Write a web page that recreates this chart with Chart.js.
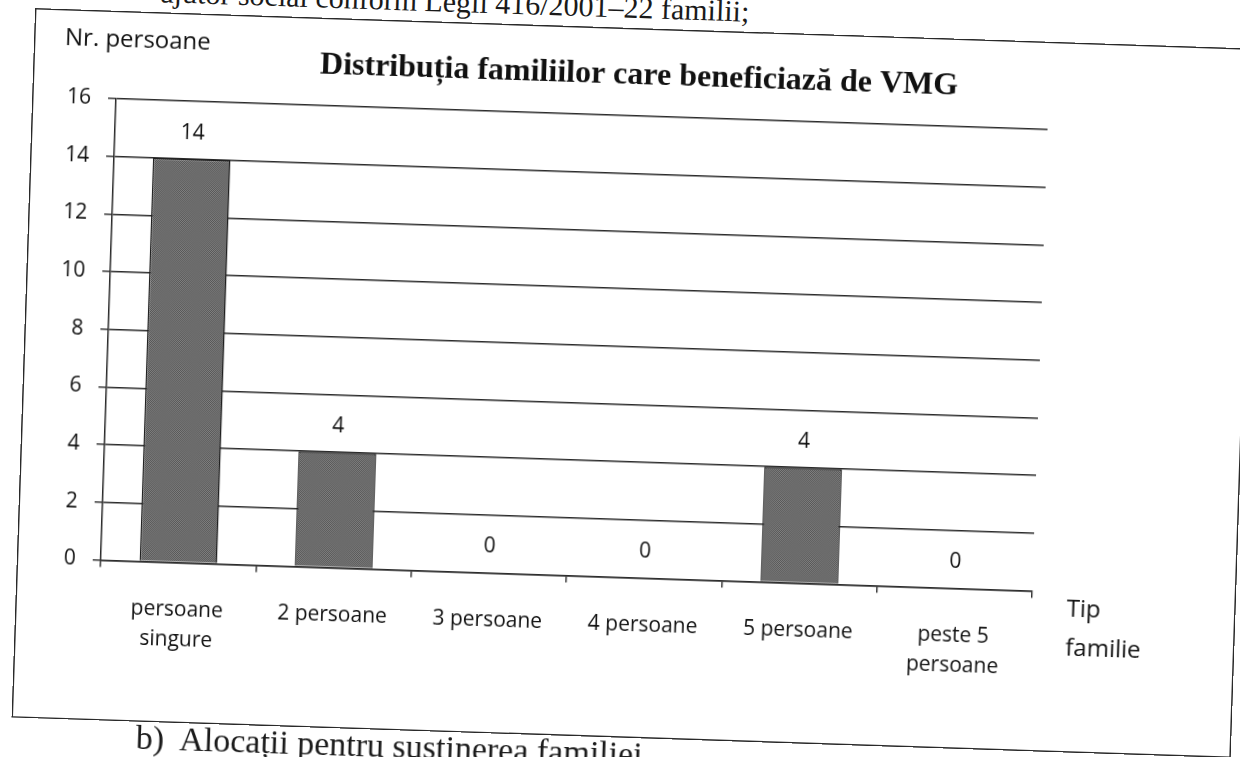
<!DOCTYPE html>
<html>
<head>
<meta charset="utf-8">
<script src="https://cdn.jsdelivr.net/npm/chart.js@4.4.1/dist/chart.umd.min.js"></script>
<style>
    html, body { margin: 0; padding: 0; background: #fff; }
    body { width: 1240px; height: 757px; overflow: hidden; position: relative; }
    /* the scanned page is slightly tilted */
    #page { position: absolute; left: 0; top: 0; width: 1240px; height: 757px; transform-origin: 35px 8px; transform: rotate(1.9deg); }
    .doc { position: absolute; font-family: "Liberation Serif", serif; color: #1a1a1a; white-space: nowrap; line-height: 1; }
    #frame { position: absolute; left: 35px; top: 8px; width: 1220px; height: 710px; box-shadow: inset 0 0 0 1.5px #2a2a2a; }
</style>
</head>
<body>
<div id="page">
    <div class="doc" style="left: 160px; top: -27px; font-size: 30px;">ajutor social conform Legii 416/2001–22 familii;</div>
    <div id="frame"><canvas id="vmgChart"></canvas></div>
    <div class="doc" style="left: 160px; top: 717px; font-size: 34px;">b)&nbsp; Alocații pentru susținerea familiei</div>
</div>
<script>
// Chart data
const categories = [['persoane', 'singure'], '2 persoane', '3 persoane', '4 persoane', '5 persoane', ['peste 5', 'persoane']];
const familyCounts = [14, 4, 0, 0, 4, 0];
const yTickValues = [0, 2, 4, 6, 8, 10, 12, 14, 16];

const chartTitle = 'Distribuția familiilor care beneficiază de VMG';
const yAxisTitle = 'Nr. persoane';
const xAxisTitle = ['Tip', 'familie'];

/**
 * Grey halftone fill, like the printed bars
 */
function makeBarPattern() {
    const c = document.createElement('canvas');
    c.width = 2;
    c.height = 2;
    const g = c.getContext('2d');
    g.fillStyle = '#828282';
    g.fillRect(0, 0, 2, 2);
    g.fillStyle = '#555555';
    g.fillRect(0, 0, 1, 1);
    g.fillRect(1, 1, 1, 1);
    return g.createPattern(c, 'repeat');
}

// Value above each bar
const valueLabels = {
    id: 'valueLabels',
    afterDatasetsDraw(chart) {
        const ctx = chart.ctx;
        const meta = chart.getDatasetMeta(0);
        ctx.save();
        ctx.font = '21px "Open Sans"';
        ctx.fillStyle = '#111';
        ctx.textAlign = 'center';
        ctx.textBaseline = 'middle';
        meta.data.forEach((bar, i) => {
            ctx.fillText(String(familyCounts[i]), bar.x, bar.y - 26);
        });
        ctx.restore();
    }
};

// Chart title and the two horizontal axis titles
const chartTexts = {
    id: 'chartTexts',
    afterDraw(chart) {
        const ctx = chart.ctx;
        const area = chart.chartArea;
        ctx.save();
        ctx.fillStyle = '#111';
        ctx.textBaseline = 'alphabetic';

        ctx.font = 'bold 32px "Liberation Serif"';
        ctx.textAlign = 'center';
        ctx.fillText(chartTitle, 606, area.top - 32);

        ctx.font = '24px "Open Sans"';
        ctx.textAlign = 'left';
        ctx.fillText(yAxisTitle, area.left - 53, area.top - 52);
        ctx.fillText(xAxisTitle[0], area.right + 35, area.bottom + 24);
        ctx.fillText(xAxisTitle[1], area.right + 35, area.bottom + 63);
        ctx.restore();
    }
};

const ctx = document.getElementById('vmgChart').getContext('2d');

new Chart(ctx, {
    type: 'bar',
    data: {
        labels: categories,
        datasets: [{
            data: familyCounts,
            backgroundColor: makeBarPattern(),
            borderColor: '#1e1e1e',
            borderWidth: 1.5,
            barPercentage: 0.5,
            categoryPercentage: 1
        }]
    },
    options: {
        responsive: true,
        maintainAspectRatio: false,
        animation: false,
        layout: {
            padding: { top: 88, left: 0, right: 204, bottom: 0 }
        },
        scales: {
            x: {
                afterFit: function(scale) { scale.height = 160.5; },
                border: { color: '#2a2a2a', width: 1.5 },
                grid: {
                    display: true,
                    drawOnChartArea: false,
                    drawTicks: true,
                    tickLength: 7,
                    offset: true,
                    color: '#2a2a2a',
                    lineWidth: 1.4
                },
                ticks: {
                    font: { family: 'Open Sans', size: 21, lineHeight: 1.4 },
                    color: '#111',
                    padding: 26,
                    maxRotation: 0,
                    autoSkip: false
                }
            },
            y: {
                min: 0,
                max: 16,
                afterBuildTicks: function(scale) {
                    scale.ticks = yTickValues.map(v => ({ value: v }));
                },
                afterFit: function(scale) { scale.width = 84; },
                border: { color: '#2a2a2a', width: 1.5 },
                grid: { color: '#2a2a2a', lineWidth: 1.4, tickLength: 8 },
                ticks: {
                    font: { family: 'Open Sans', size: 21 },
                    color: '#111',
                    padding: 17
                }
            }
        },
        plugins: {
            legend: { display: false },
            tooltip: { enabled: false },
            title: { display: false }
        }
    },
    plugins: [valueLabels, chartTexts]
});
</script>
</body>
</html>
